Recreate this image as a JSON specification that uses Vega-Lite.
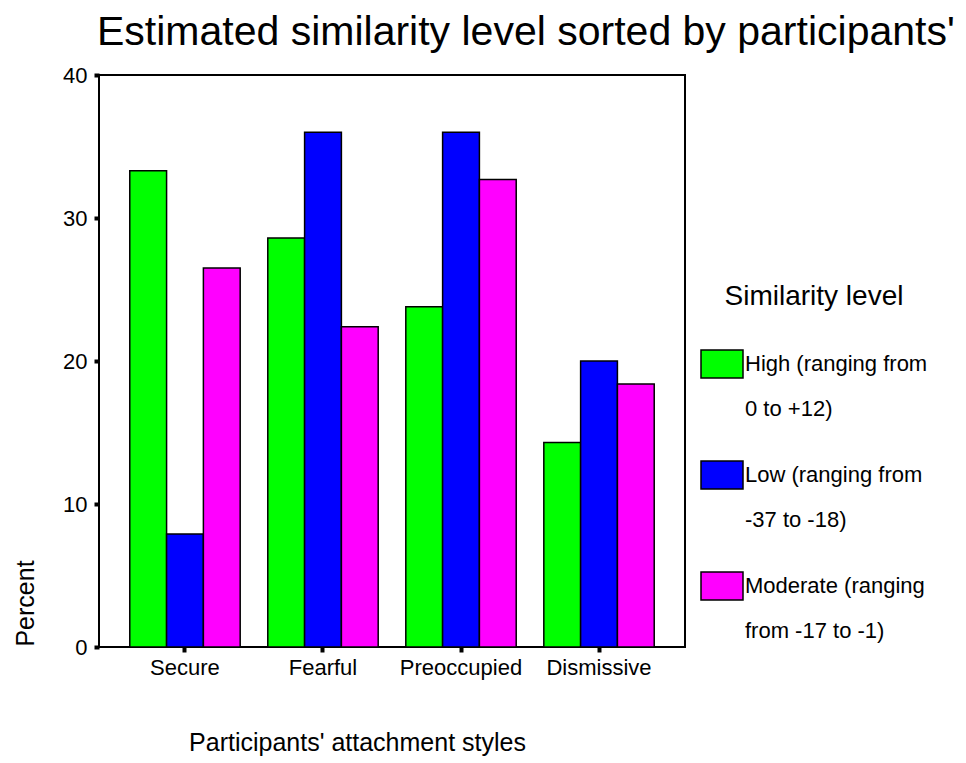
{
  "$schema": "https://vega.github.io/schema/vega-lite/v6.json",
  "autosize": "none",
  "width": 586,
  "height": 572,
  "padding": {"left": 99, "top": 75, "right": 281, "bottom": 116},
  "background": "white",
  "title": {
    "text": "Estimated similarity level sorted by participants'",
    "anchor": "start",
    "frame": "group",
    "fontSize": 41,
    "font": "Liberation Sans",
    "fontWeight": "normal",
    "color": "black",
    "offset": 10,
    "dx": -2
  },
  "data": {
    "values": [
      {"style": "Secure", "level": "High (ranging from 0 to +12)", "percent": 33.3},
      {"style": "Secure", "level": "Low  (ranging from -37 to -18)", "percent": 7.9},
      {"style": "Secure", "level": "Moderate (ranging from -17 to -1)", "percent": 26.5},
      {"style": "Fearful", "level": "High (ranging from 0 to +12)", "percent": 28.6},
      {"style": "Fearful", "level": "Low  (ranging from -37 to -18)", "percent": 36.0},
      {"style": "Fearful", "level": "Moderate (ranging from -17 to -1)", "percent": 22.4},
      {"style": "Preoccupied", "level": "High (ranging from 0 to +12)", "percent": 23.8},
      {"style": "Preoccupied", "level": "Low  (ranging from -37 to -18)", "percent": 36.0},
      {"style": "Preoccupied", "level": "Moderate (ranging from -17 to -1)", "percent": 32.7},
      {"style": "Dismissive", "level": "High (ranging from 0 to +12)", "percent": 14.3},
      {"style": "Dismissive", "level": "Low  (ranging from -37 to -18)", "percent": 20.0},
      {"style": "Dismissive", "level": "Moderate (ranging from -17 to -1)", "percent": 18.4}
    ]
  },
  "mark": {"type": "bar", "stroke": "black", "strokeWidth": 1.5},
  "encoding": {
    "x": {
      "field": "style",
      "type": "nominal",
      "sort": ["Secure", "Fearful", "Preoccupied", "Dismissive"],
      "scale": {"paddingInner": 0.2, "paddingOuter": 0.223},
      "axis": {
        "title": "Participants' attachment styles",
        "titleFontSize": 25,
        "titleFontWeight": "normal",
        "titleX": 258,
        "titleY": 103,
        "titleAlign": "center",
        "titleBaseline": "alphabetic",
        "labelAngle": 0,
        "labelFontSize": 22,
        "labelPadding": 5,
        "domain": false,
        "tickSize": 5,
        "tickWidth": 4,
        "tickColor": "black"
      }
    },
    "xOffset": {
      "field": "level",
      "type": "nominal"
    },
    "y": {
      "field": "percent",
      "type": "quantitative",
      "scale": {"domain": [0, 40], "nice": false},
      "axis": {
        "title": "Percent",
        "titleFontSize": 25,
        "titleFontWeight": "normal",
        "titleX": -66,
        "titleY": 528,
        "titleAlign": "center",
        "titleBaseline": "alphabetic",
        "values": [0, 10, 20, 30, 40],
        "labelFontSize": 22,
        "labelPadding": 7,
        "grid": false,
        "domain": false,
        "tickSize": 5,
        "tickWidth": 4,
        "tickColor": "black"
      }
    },
    "color": {
      "field": "level",
      "type": "nominal",
      "scale": {
        "domain": ["High (ranging from 0 to +12)", "Low  (ranging from -37 to -18)", "Moderate (ranging from -17 to -1)"],
        "range": ["#00FF00", "#0000FF", "#FF00FF"]
      },
      "legend": {
        "title": "Similarity level",
        "orient": "none",
        "legendX": 601,
        "legendY": 208,
        "titleFontSize": 28,
        "titleFontWeight": "normal",
        "titleAnchor": "middle",
        "titlePadding": 31,
        "symbolType": "M-1,-0.667H1V0.667H-1Z",
        "symbolSize": 1764,
        "symbolStrokeColor": "black",
        "symbolStrokeWidth": 1.5,
        "symbolOpacity": 1,
        "labelFontSize": 22,
        "labelOffset": 1,
        "labelBaseline": "middle",
        "labelLimit": 300,
        "rowPadding": 33,
        "labelExpr": "indexof(datum.label, 'High') == 0 ? ['High (ranging from', '0 to +12)'] : indexof(datum.label, 'Low') == 0 ? ['Low  (ranging from', '-37 to -18)'] : ['Moderate (ranging', 'from -17 to -1)']"
      }
    }
  },
  "config": {
    "font": "Liberation Sans",
    "view": {"stroke": "black", "strokeWidth": 2},
    "axis": {"labelColor": "black", "titleColor": "black"},
    "legend": {"labelColor": "black", "titleColor": "black"},
    "style": {"guide-label": {"lineHeight": 45}}
  }
}
